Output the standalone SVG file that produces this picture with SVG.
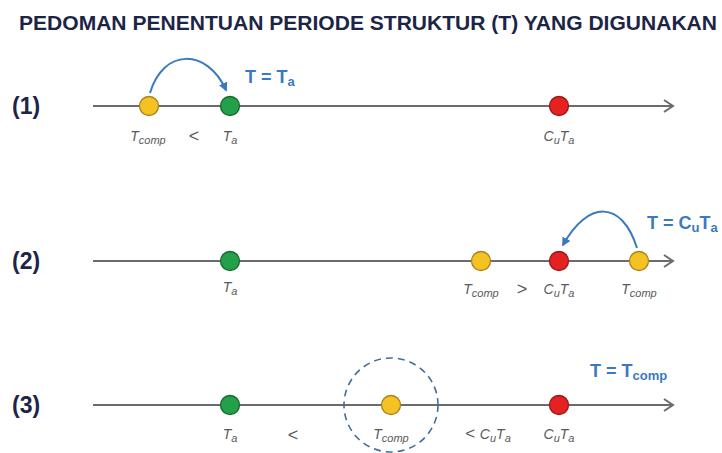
<svg xmlns="http://www.w3.org/2000/svg" width="722" height="453" viewBox="0 0 722 453">
<style>
.title{font-family:"Liberation Sans",Arial,sans-serif;font-weight:bold;font-size:20px;fill:#1d2547}
.num{font-family:"Liberation Sans",Arial,sans-serif;font-weight:bold;font-size:23px;fill:#1d2547}
.axis{stroke:#6b6b6b;stroke-width:2;fill:none}
.lab{font-family:"Liberation Sans",Arial,sans-serif;font-style:italic;font-size:14px;fill:#5a5a5a;text-anchor:middle}
.op{font-family:"Liberation Sans",Arial,sans-serif;font-size:18px;fill:#5a5a5a;text-anchor:middle}
.sub{font-size:11px}
.res{font-family:"Liberation Sans",Arial,sans-serif;font-weight:bold;font-size:18px;fill:#3a79c0}
.rsub{font-size:13px}
.y{fill:#f5c224;stroke:#a8821c;stroke-width:1.3}
.g{fill:#22a14a;stroke:#17692f;stroke-width:1.3}
.r{fill:#e52222;stroke:#9a1717;stroke-width:1.3}
.blue{stroke:#3a79c0;stroke-width:2;fill:none}
</style>
<defs>
<marker id="ah" viewBox="0 0 10 10" refX="8" refY="5" markerWidth="4.5" markerHeight="4.5" orient="auto" markerUnits="strokeWidth">
<path d="M0,0 L10,5 L0,10 z" fill="#3a79c0"/>
</marker>
</defs>
<rect width="722" height="453" fill="#fff"/>
<text class="title" x="19" y="30" textLength="698" lengthAdjust="spacingAndGlyphs">PEDOMAN PENENTUAN PERIODE STRUKTUR (T) YANG DIGUNAKAN</text>

<g id="connectors">
<line class="axis" x1="93" y1="106" x2="673" y2="106"/>
<polyline class="axis" points="664,100 673,106 664,112"/>
<line class="axis" x1="93" y1="261" x2="673" y2="261"/>
<polyline class="axis" points="664,255 673,261 664,267"/>
<line class="axis" x1="93" y1="405" x2="673" y2="405"/>
<polyline class="axis" points="664,399 673,405 664,411"/>
<path class="blue" d="M150,93 C163,48 207,48 226,90" marker-end="url(#ah)"/>
<path class="blue" d="M637,248 C622,200 588,200 563,245" marker-end="url(#ah)"/>
</g>

<g id="row1">
<text class="num" x="12" y="114">(1)</text>
<circle class="y" cx="149" cy="106" r="9.5"/>
<circle class="g" cx="230" cy="106" r="9.5"/>
<circle class="r" cx="559" cy="106" r="9.5"/>
<text class="lab" x="148" y="141">T<tspan class="sub" dy="3">comp</tspan></text>
<text class="op" x="194" y="142">&lt;</text>
<text class="lab" x="230" y="141">T<tspan class="sub" dy="3">a</tspan></text>
<text class="lab" x="559" y="141">C<tspan class="sub" dy="3">u</tspan><tspan dy="-3">T</tspan><tspan class="sub" dy="3">a</tspan></text>
<text class="res" x="245" y="83">T = T<tspan class="rsub" dy="3">a</tspan></text>
</g>

<g id="row2">
<text class="num" x="12" y="269">(2)</text>
<circle class="g" cx="230" cy="261" r="9.5"/>
<circle class="y" cx="481" cy="261" r="9.5"/>
<circle class="r" cx="559" cy="261" r="9.5"/>
<circle class="y" cx="639" cy="261" r="9.5"/>
<text class="lab" x="230" y="292">T<tspan class="sub" dy="3">a</tspan></text>
<text class="lab" x="481" y="294">T<tspan class="sub" dy="3">comp</tspan></text>
<text class="op" x="522" y="295">&gt;</text>
<text class="lab" x="559" y="294">C<tspan class="sub" dy="3">u</tspan><tspan dy="-3">T</tspan><tspan class="sub" dy="3">a</tspan></text>
<text class="lab" x="639" y="294">T<tspan class="sub" dy="3">comp</tspan></text>
<text class="res" x="647" y="229">T = C<tspan class="rsub" dy="3">u</tspan><tspan dy="-3">T</tspan><tspan class="rsub" dy="3">a</tspan></text>
</g>

<g id="row3">
<text class="num" x="12" y="413">(3)</text>
<circle cx="391" cy="405" r="47" fill="none" stroke="#3f6e9c" stroke-width="1.6" stroke-dasharray="7,5"/>
<circle class="g" cx="230" cy="405" r="9.5"/>
<circle class="y" cx="391" cy="405" r="9.5"/>
<circle class="r" cx="559" cy="405" r="9.5"/>
<text class="lab" x="230" y="439">T<tspan class="sub" dy="3">a</tspan></text>
<text class="op" x="293" y="441">&lt;</text>
<text class="lab" x="391" y="439">T<tspan class="sub" dy="3">comp</tspan></text>
<text class="lab" x="488" y="439"><tspan font-style="normal" font-size="17">&lt; </tspan>C<tspan class="sub" dy="3">u</tspan><tspan dy="-3">T</tspan><tspan class="sub" dy="3">a</tspan></text>
<text class="lab" x="559" y="439">C<tspan class="sub" dy="3">u</tspan><tspan dy="-3">T</tspan><tspan class="sub" dy="3">a</tspan></text>
<text class="res" x="590" y="377">T = T<tspan class="rsub" dy="3">comp</tspan></text>
</g>
</svg>
